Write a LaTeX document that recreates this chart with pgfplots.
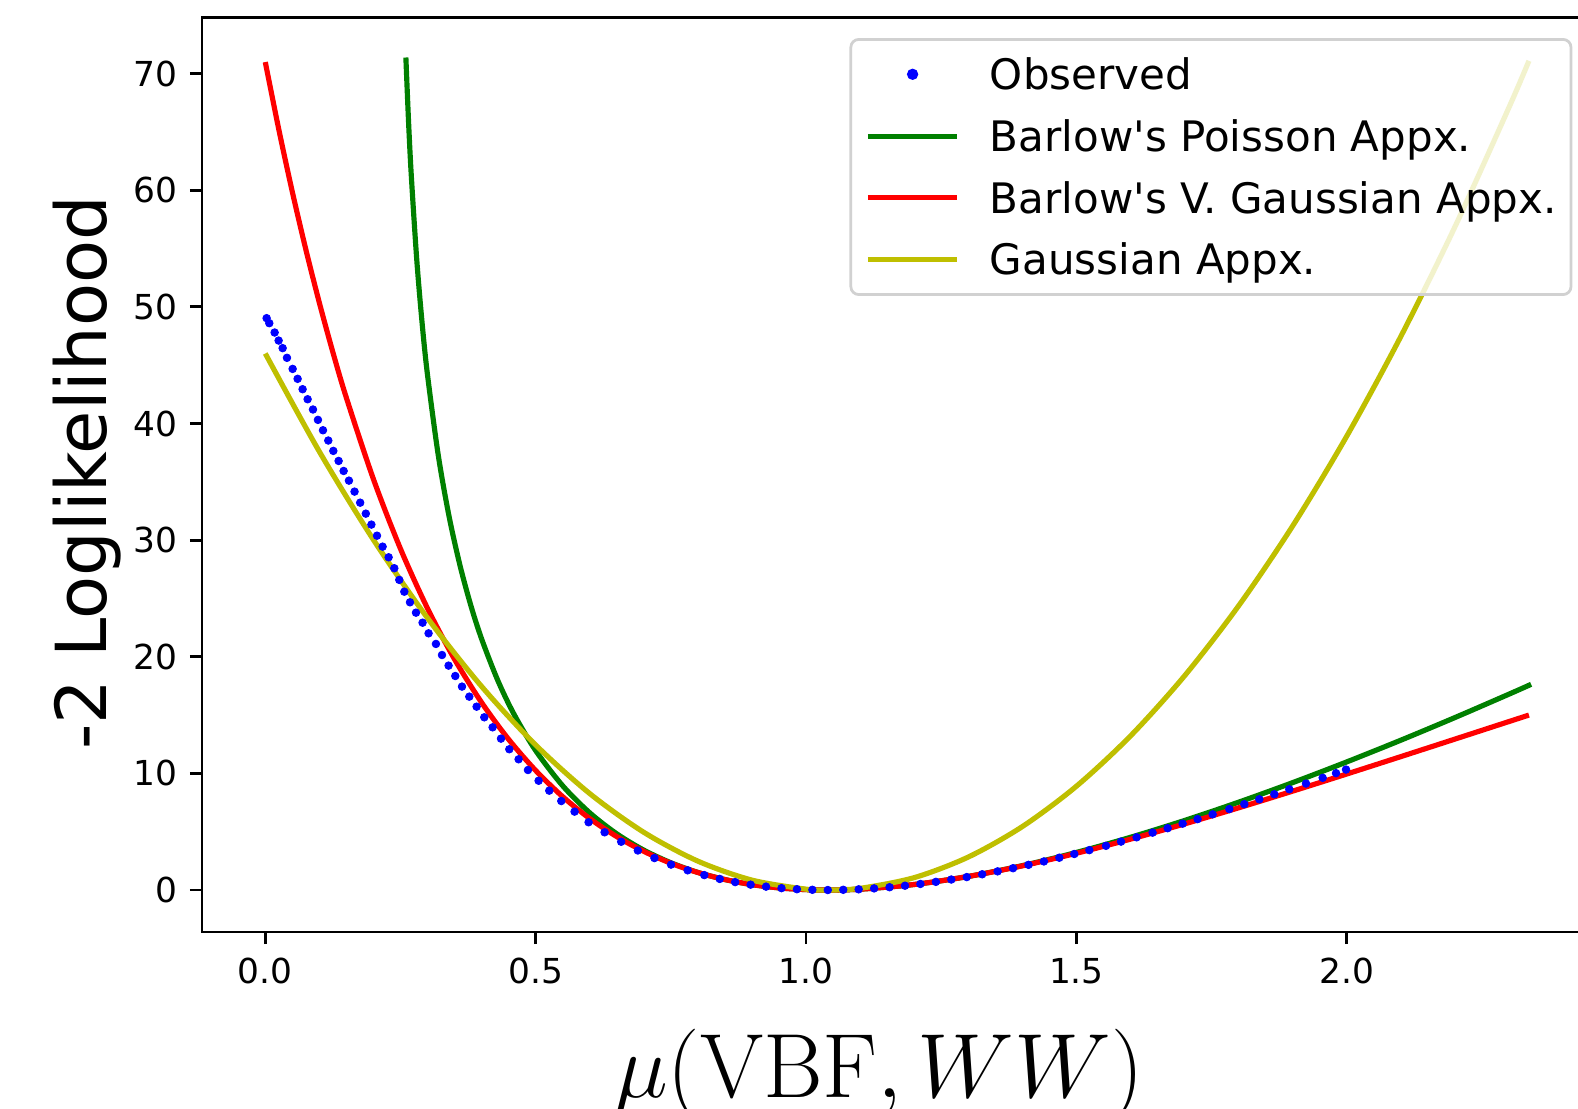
\documentclass[border=0pt]{standalone}
\usepackage[no-math]{fontspec}
\setmainfont{DejaVu Sans}[Ligatures=TeXOff]
\usepackage{pgfplots}
\pgfplotsset{compat=1.18}
\definecolor{mplgreen}{rgb}{0,0.5,0}
\definecolor{mplyellow}{rgb}{0.75,0.75,0}
\pgfplotsset{
  linelegend/.style={legend image code/.code={\draw[##1, draw opacity=1] (0pt,0pt) -- (22.4pt,0pt);}},
}
\begin{document}
\begin{tikzpicture}
\begin{axis}[
  at={(0pt,0pt)}, anchor=south west,
  scale only axis, width=348.1pt, height=228.6pt,
  xmin=-0.11705, xmax=2.45805, ymin=-3.6, ymax=74.8,
  axis line style={line width=0.69pt},
  tick align=outside, major tick length=3pt,
  tick style={line width=0.69pt, black},
  tick pos=left,
  xtick={0,0.5,1,1.5,2}, ytick={0,10,20,30,40,50,60,70},
  minor tick num=0,
  /pgf/number format/assume math mode=true,
  x tick label style={/pgf/number format/fixed, /pgf/number format/fixed zerofill, /pgf/number format/precision=1},
  tick label style={font=\fontsize{8.6}{10}\selectfont},
  xticklabel style={anchor=base, inner sep=0pt, yshift=-9.75pt},
  yticklabel style={anchor=east, inner sep=0pt, xshift=-3pt},
  legend cell align=left,
  legend style={
    at={(rel axis cs:1,1)}, xshift=-5.5pt, yshift=-5.1pt, anchor=north east,
    draw=black!18, line width=0.69pt, rounded corners=2pt,
    fill=white, fill opacity=0.8, text opacity=1,
    inner xsep=3.6pt, inner ysep=1.0pt,
    font=\fontsize{10.5}{12}\selectfont,
    nodes={inner sep=0pt, text height=11.55pt, text depth=3.9pt},
    row sep=0pt, column sep=7.5pt,
  },
]
\addplot[only marks, mark=*, mark size=0.95pt, color=blue, mark options={line width=0.2pt, fill=blue},
  legend image code/.code={\fill[blue, fill opacity=1] (11.2pt,0pt) circle (1.05pt);}]
coordinates {
(0.0025,49.03)(0.0074,48.60)(0.0173,47.80)(0.0247,47.11)(0.0321,46.46)(0.0401,45.63)
(0.0506,44.68)(0.0598,43.83)(0.0690,42.94)(0.0783,42.08)(0.0882,41.20)(0.0974,40.31)
(0.1067,39.42)(0.1165,38.54)(0.1258,37.65)(0.1356,36.79)(0.1449,35.93)(0.1547,35.10)
(0.1651,34.16)(0.1755,33.21)(0.1859,32.27)(0.1962,31.33)(0.2066,30.38)(0.2170,29.44)
(0.2281,28.53)(0.2386,27.59)(0.2478,26.59)(0.2571,25.58)(0.2676,24.67)(0.2787,23.78)
(0.2909,22.92)(0.3020,22.01)(0.3156,21.10)(0.3268,20.15)(0.3390,19.24)(0.3514,18.35)
(0.3638,17.44)(0.3773,16.58)(0.3908,15.72)(0.4050,14.81)(0.4204,13.95)(0.4359,12.98)
(0.4513,12.07)(0.4685,11.21)(0.4858,10.29)(0.5055,9.37)(0.5252,8.52)(0.5474,7.63)
(0.5720,6.72)(0.5979,5.81)(0.6275,4.95)(0.6582,4.14)(0.6890,3.39)(0.7197,2.74)
(0.7504,2.18)(0.7812,1.69)(0.8119,1.28)(0.8405,0.95)(0.8690,0.68)(0.8976,0.46)
(0.9261,0.29)(0.9547,0.16)(0.9832,0.07)(1.0118,0.02)(1.0403,0.00)(1.0689,0.02)
(1.0974,0.06)(1.1260,0.14)(1.1545,0.24)(1.1831,0.37)(1.2116,0.52)(1.2402,0.70)
(1.2687,0.90)(1.2973,1.11)(1.3258,1.35)(1.3544,1.60)(1.3829,1.87)(1.4115,2.16)
(1.4400,2.45)(1.4685,2.77)(1.4962,3.09)(1.5240,3.42)(1.5548,3.79)(1.5826,4.15)
(1.6114,4.52)(1.6410,4.92)(1.6688,5.30)(1.6965,5.69)(1.7242,6.08)(1.7520,6.49)
(1.7829,6.94)(1.8106,7.36)(1.8384,7.78)(1.8661,8.21)(1.8938,8.64)(1.9247,9.13)
(1.9555,9.62)(1.9802,10.02)(1.9987,10.33)
};
\addlegendentry{Observed}
\addplot[mplgreen, line width=1.29pt, smooth, no marks, linelegend]
coordinates {
(0.260,71.38)(0.265,65.83)(0.270,61.28)(0.280,54.13)(0.290,48.62)(0.300,44.17)
(0.320,37.25)(0.340,32.01)(0.360,27.85)(0.380,24.42)(0.400,21.54)(0.430,17.97)
(0.460,15.07)(0.500,11.96)(0.550,8.94)(0.600,6.62)(0.650,4.82)(0.700,3.42)
(0.750,2.34)(0.800,1.511)(0.850,0.898)(0.900,0.463)(0.950,0.183)(1.000,0.034)
(1.040,0)(1.100,0.071)(1.200,0.472)(1.300,1.163)(1.400,2.093)(1.500,3.222)
(1.600,4.520)(1.700,5.962)(1.800,7.530)(1.900,9.208)(2.000,10.984)(2.100,12.845)
(2.200,14.784)(2.300,16.792)(2.341,17.635)
};
\addlegendentry{Barlow's Poisson Appx.}
\addplot[red, line width=1.29pt, smooth, no marks, linelegend]
coordinates {
(0,70.99)(0.025,65.21)(0.05,59.86)(0.075,54.92)(0.1,50.35)(0.125,46.11)(0.15,42.20)
(0.2,35.23)(0.25,29.26)(0.3,24.15)(0.35,19.79)(0.4,16.08)(0.45,12.92)(0.5,10.25)
(0.55,8.004)(0.6,6.130)(0.65,4.580)(0.7,3.314)(0.75,2.298)(0.8,1.502)(0.85,0.8995)
(0.9,0.4670)(0.95,0.1847)(1.0,0.0350)(1.04,0)(1.1,0.0724)(1.2,0.4756)(1.3,1.1633)
(1.4,2.0719)(1.5,3.1507)(1.6,4.3597)(1.7,5.6672)(1.8,7.0469)(1.9,8.4790)(2.0,9.9466)
(2.1,11.437)(2.2,12.938)(2.3,14.444)(2.337,15.000)
};
\addlegendentry{Barlow's V. Gaussian Appx.}
\addplot[mplyellow, line width=1.29pt, smooth, no marks, linelegend]
coordinates {
(0,46.00)(0.1,37.59)(0.2,30.03)(0.3,23.32)(0.4,17.46)(0.5,12.44)(0.6,8.272)
(0.7,4.951)(0.8,2.478)(0.9,0.852)(1.0,0.074)(1.0418,0)(1.1,0.1436)(1.2,1.0607)
(1.3,2.825)(1.4,5.438)(1.5,8.897)(1.6,13.205)(1.7,18.360)(1.8,24.363)(1.9,31.213)
(2.0,38.911)(2.1,47.457)(2.2,56.850)(2.3,67.090)(2.337,71.094)
};
\addlegendentry{Gaussian Appx.}
\end{axis}
\node[rotate=90, anchor=base, font=\fontsize{17.6}{20}\selectfont] at (-23.75pt,114.75pt) {-2 Loglikelihood};
\node[anchor=base, scale=1.0993, font=\fontsize{20.74}{24}\selectfont] at (169.2pt,-41.25pt) {$\mu(\mathrm{VBF}, WW)$};
\pgfresetboundingbox
\useasboundingbox (-50.5pt,-44pt) rectangle (344pt,233pt);
\end{tikzpicture}
\end{document}
